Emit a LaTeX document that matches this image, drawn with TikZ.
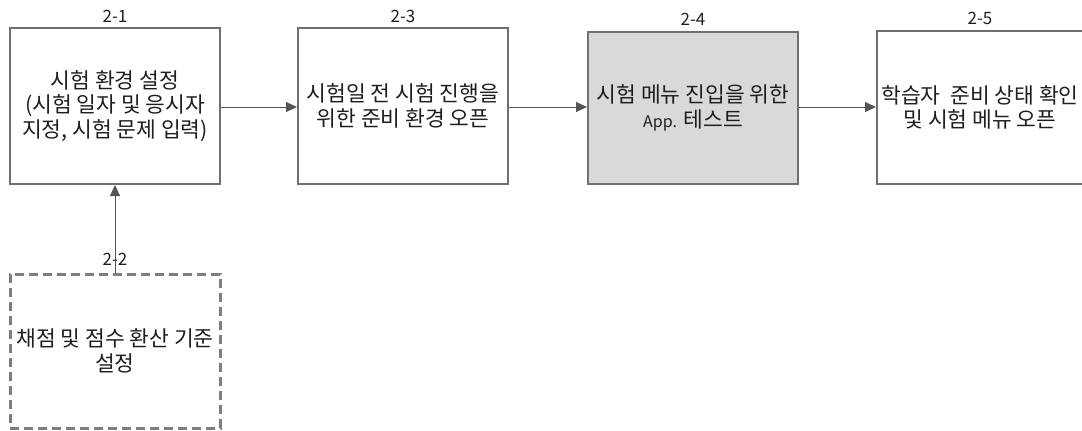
\documentclass[tikz,border=0pt]{standalone}
\usepackage{fontspec}
\setmainfont{Noto Sans CJK KR}
\usetikzlibrary{arrows.meta}
\definecolor{boxline}{HTML}{707070}
\definecolor{arrowline}{HTML}{555555}
\definecolor{boxfill}{HTML}{D9D9D9}
\definecolor{txtcol}{HTML}{1E1E1E}
\tikzset{
  box/.style={draw=boxline, line width=2pt, minimum width=210pt, align=center,
    text=txtcol, font=\fontsize{21.5}{24.5}\selectfont, inner sep=0pt},
  dashbox/.style={box, dash pattern=on 9pt off 5pt, line width=3pt, draw=boxline!90},
  tag/.style={text=txtcol, font=\fontsize{17}{20}\selectfont, inner sep=0pt},
  flow/.style={draw=arrowline, line width=1pt, -{Triangle[length=11pt,width=10pt]}},
  txt/.style={text=txtcol, font=\fontsize{21.5}{24.5}\selectfont, align=center, inner sep=0pt}
}
\begin{document}
\begin{tikzpicture}[x=1pt,y=-1pt]
\useasboundingbox (0,0) rectangle (1082,431);
\node[box, minimum height=156pt] (b1) at (115,106) {시험 환경 설정\\(시험 일자 및 응시자\\지정, 시험 문제 입력)};
\node[box, minimum height=156pt] (b3) at (403,106) {시험일 전 시험 진행을\\위한 준비 환경 오픈};
\node[box, minimum height=152pt, fill=boxfill] (b4) at (693,108) {시험 메뉴 진입을 위한\\{\fontsize{16}{18}\selectfont App.} 테스트};
\node[box, minimum width=206pt, minimum height=153pt] (b5) at (980,107.5) {};
\node[txt] (t5) at (b5.center) {학습자\ \ 준비 상태 확인\\및 시험 메뉴 오픈};
\node[dashbox, minimum height=154pt] (b2) at (115,351) {채점 및 점수 환산 기준\\설정};
\node[tag] (l1) at (115,16) {2-1};
\node[tag] (l3) at (403,16) {2-3};
\node[tag] (l4) at (693,19) {2-4};
\node[tag] (l5) at (980,18) {2-5};
\node[tag] (l2) at (115,259) {2-2};
\draw[flow] (b1.east |- 0,107) -- (b3.west |- 0,107);
\draw[flow] (b3.east |- 0,107) -- (b4.west |- 0,107);
\draw[flow] (b4.east |- 0,107) -- (b5.west |- 0,107);
\draw[flow] (b2.north) -- (b1.south);
\end{tikzpicture}
\end{document}
